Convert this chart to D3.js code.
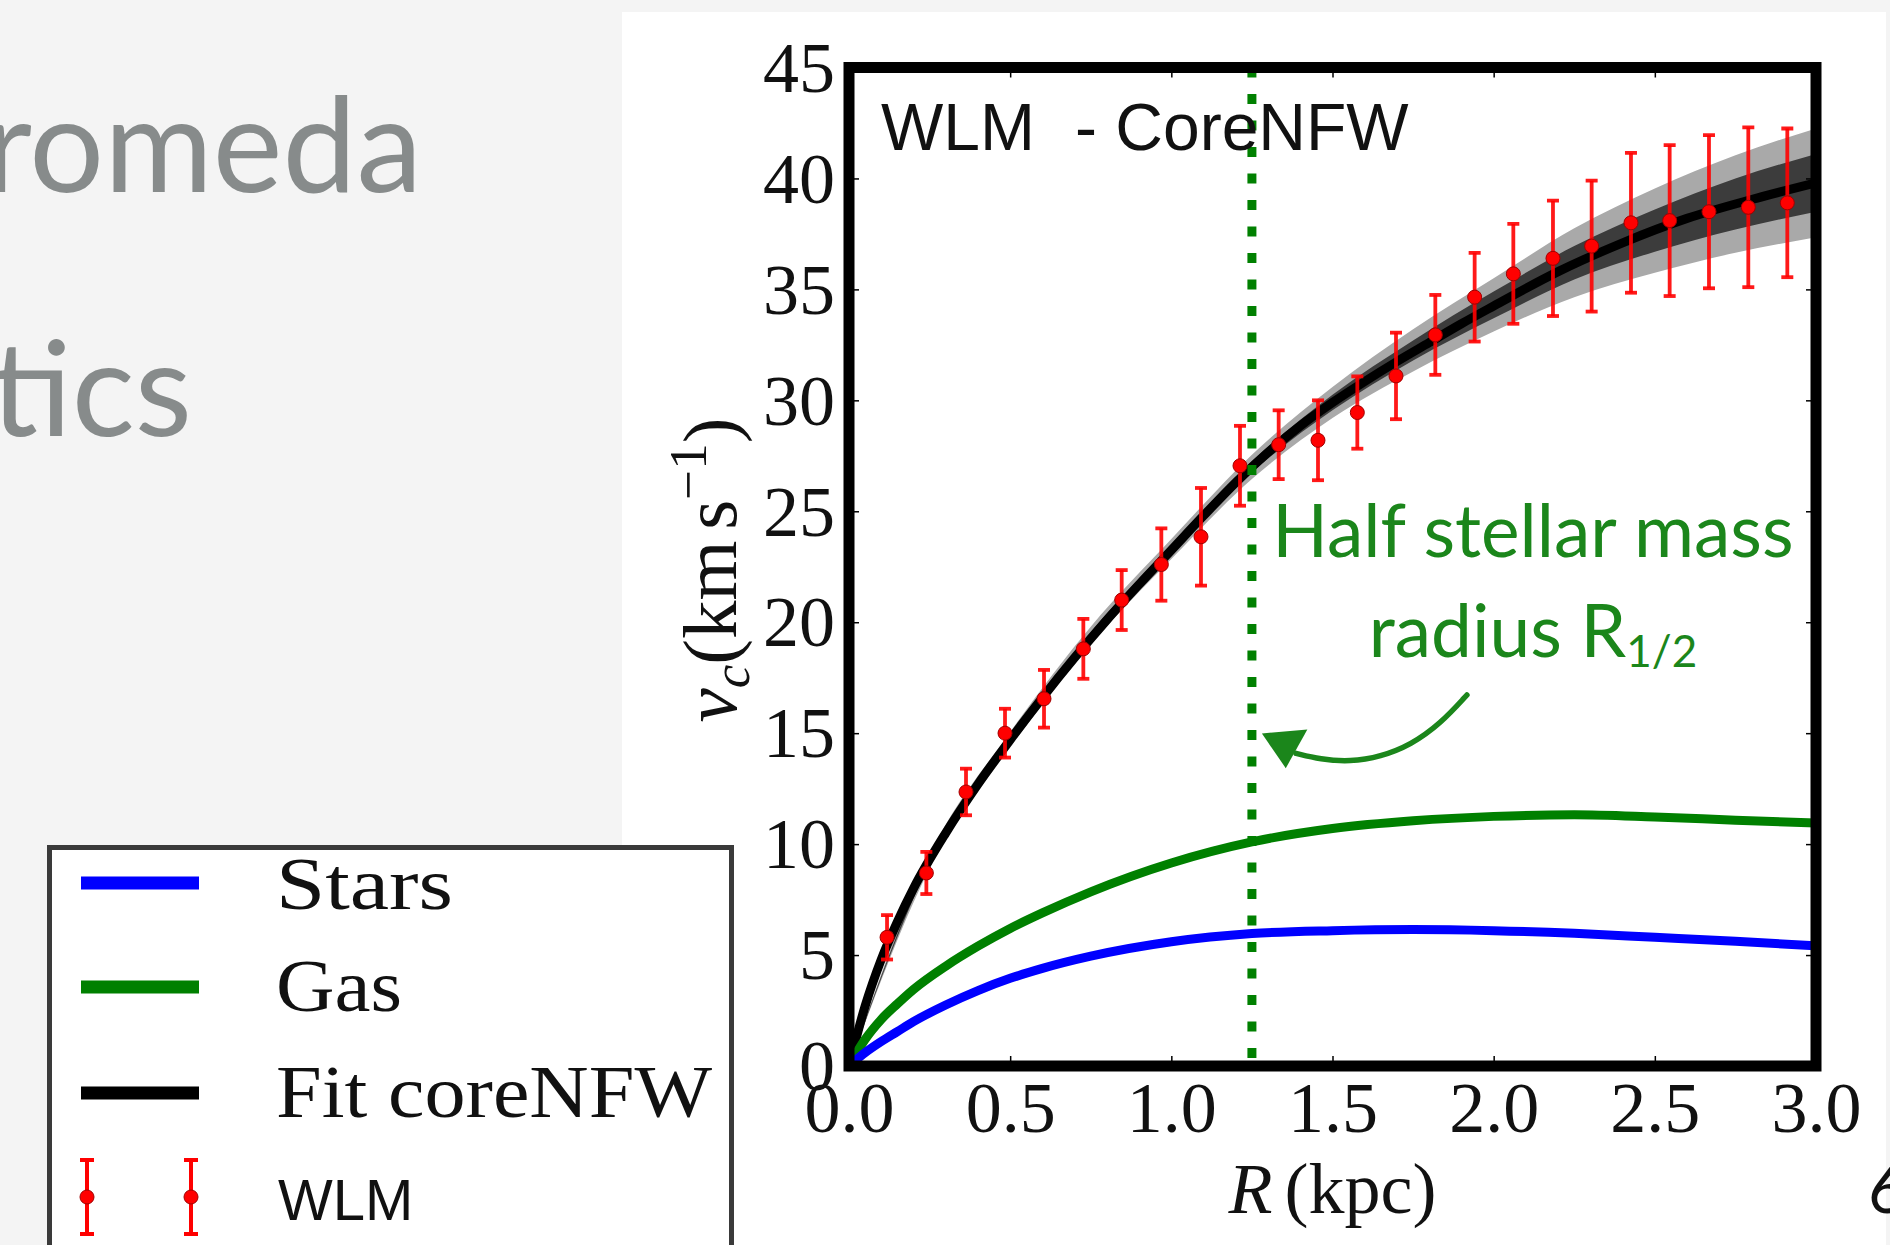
<!DOCTYPE html>
<html>
<head>
<meta charset="utf-8">
<script src="https://cdn.jsdelivr.net/npm/d3@7"></script>
<style>
  body { margin: 0; background: #f4f4f4; }
  svg { display: block; }
  .tick line { stroke: #000; stroke-width: 1.5; }
  .tick text { font-family: "Liberation Serif", serif; font-size: 72px; fill: #111; }
  .slide { font-family: Lato, "Open Sans", sans-serif; fill: #878b8b; }
  .serif { font-family: "Liberation Serif", serif; fill: #111; }
</style>
</head>
<body>
<div id="chart"></div>
<script>
// values
var pointR = [0.118, 0.240, 0.363, 0.484, 0.605, 0.727, 0.846, 0.969, 1.092, 1.213, 1.333, 1.455,
              1.577, 1.697, 1.819, 1.941, 2.061, 2.184, 2.304, 2.426, 2.546, 2.668, 2.790, 2.911];
var pointV = [5.8, 8.7, 12.35, 15.0, 16.55, 18.8, 21.0, 22.6, 23.85, 27.05, 28.0, 28.2,
              29.45, 31.1, 32.95, 34.65, 35.7, 36.4, 36.95, 38.0, 38.1, 38.5, 38.7, 38.9];
var pointErr = [1.0, 0.95, 1.05, 1.1, 1.3, 1.35, 1.35, 1.63, 2.2, 1.8, 1.55, 1.8,
                1.63, 1.95, 1.8, 2.0, 2.25, 2.6, 2.95, 3.15, 3.4, 3.45, 3.6, 3.35];

var fitR = [0, 0.05, 0.1, 0.15, 0.2, 0.3, 0.4, 0.5, 0.6, 0.7, 0.8, 0.9, 1.0, 1.1, 1.2, 1.3,
            1.4, 1.5, 1.6, 1.7, 1.8, 1.9, 2.0, 2.2, 2.4, 2.6, 2.8, 3.0];
var fitV = [0, 2.7, 4.8, 6.5, 8.0, 10.5, 12.7, 14.7, 16.6, 18.4, 20.1, 21.7, 23.25, 24.8, 26.3, 27.65,
            28.85, 29.9, 30.85, 31.75, 32.6, 33.45, 34.25, 35.8, 37.1, 38.2, 39.05, 39.8];

var bandR = [0, 0.25, 0.5, 0.75, 1.0, 1.25, 1.5, 1.75, 2.0, 2.25, 2.5, 2.75, 3.0];
var lightLo = [0, 8.9, 14.35, 19.0, 22.85, 26.45, 29.2, 31.3, 33.1, 34.65, 35.75, 36.65, 37.35];
var lightHi = [0, 9.5, 15.05, 19.8, 23.75, 27.55, 30.6, 33.2, 35.5, 37.75, 39.55, 41.05, 42.25];
var darkLo = [0, 9.1, 14.6, 19.25, 23.1, 26.75, 29.55, 31.8, 33.7, 35.45, 36.7, 37.7, 38.5];
var darkHi = [0, 9.3, 14.8, 19.55, 23.5, 27.25, 30.25, 32.7, 34.9, 36.95, 38.6, 40.0, 41.1];

var compR = [0, 0.05, 0.1, 0.15, 0.2, 0.3, 0.4, 0.5, 0.6, 0.75, 1.0, 1.25, 1.5, 1.75, 2.0, 2.25, 2.5, 2.75, 3.0];
var gasV = [0, 1.2, 2.1, 2.8, 3.45, 4.5, 5.4, 6.2, 6.9, 7.85, 9.15, 10.1, 10.7, 11.05, 11.25, 11.32, 11.22, 11.08, 10.95];
var starsV = [0, 0.6, 1.1, 1.55, 2.0, 2.75, 3.4, 3.95, 4.4, 4.95, 5.6, 5.97, 6.1, 6.15, 6.1, 5.98, 5.8, 5.62, 5.42];

var rHalf = 1.25;

var xTicks = [0, 0.5, 1.0, 1.5, 2.0, 2.5, 3.0];
var yTicks = [0, 5, 10, 15, 20, 25, 30, 35, 40, 45];

var legendLabels = ["Stars", "Gas", "Fit coreNFW", "WLM"];
var legendColors = ["#0000ff", "#008000", "#000000", "#ff0000"];

// annotation arrow, in data units
var arrowLine = [[1.917, 16.72], [1.836, 15.44], [1.743, 14.47], [1.649, 13.94], [1.555, 13.71], [1.462, 13.82], [1.387, 14.09]];
var arrowHead = [[1.281, 14.99], [1.422, 15.17], [1.355, 13.42]];

var width = 1890, height = 1245;

var svg = d3.select("#chart").append("svg")
    .attr("width", width)
    .attr("height", height);

// white panel behind the figure
svg.append("rect")
    .attr("x", 622).attr("y", 12)
    .attr("width", 1264).attr("height", height)
    .attr("fill", "#fff");

// slide text cut at the left edge
svg.append("text").attr("class", "slide")
    .attr("x", 422).attr("y", 192)
    .attr("text-anchor", "end")
    .attr("font-size", 132)
    .text("romeda");
svg.append("text").attr("class", "slide")
    .attr("x", 192).attr("y", 436)
    .attr("text-anchor", "end")
    .attr("font-size", 132)
    .text("tics");
svg.append("text")
    .attr("x", 1868).attr("y", 1213)
    .attr("font-family", "Lato, sans-serif")
    .attr("font-size", 66)
    .attr("fill", "#111")
    .text("6");

var x = d3.scaleLinear().domain([0, 3]).range([849, 1816]);
var y = d3.scaleLinear().domain([0, 45]).range([1066, 67.5]);

svg.append("clipPath").attr("id", "plotclip")
    .append("rect")
    .attr("x", x(0)).attr("y", y(45))
    .attr("width", x(3) - x(0)).attr("height", y(0) - y(45));

var plot = svg.append("g").attr("clip-path", "url(#plotclip)");

var band = function (lo, hi) {
    return d3.area()
        .x(function (d, i) { return x(bandR[i]); })
        .y0(function (d, i) { return y(lo[i]); })
        .y1(function (d, i) { return y(hi[i]); })
        .curve(d3.curveMonotoneX);
};

plot.append("path").datum(bandR)
    .attr("fill", "#a9a9a9")
    .attr("d", band(lightLo, lightHi));
plot.append("path").datum(bandR)
    .attr("fill", "#3c3c3c")
    .attr("d", band(darkLo, darkHi));

var line = d3.line()
    .x(function (d) { return x(d[0]); })
    .y(function (d) { return y(d[1]); })
    .curve(d3.curveMonotoneX);

plot.append("path")
    .datum(d3.zip(fitR, fitV))
    .attr("fill", "none").attr("stroke", "#000").attr("stroke-width", 9)
    .attr("d", line);
plot.append("path")
    .datum(d3.zip(compR, gasV))
    .attr("fill", "none").attr("stroke", "#008000").attr("stroke-width", 9)
    .attr("d", line);
plot.append("path")
    .datum(d3.zip(compR, starsV))
    .attr("fill", "none").attr("stroke", "#0000ff").attr("stroke-width", 9)
    .attr("d", line);

// error bars
var bars = plot.selectAll(".ebar")
    .data(d3.range(pointR.length))
    .enter().append("g")
    .attr("class", "ebar")
    .attr("stroke", "#ff0000")
    .attr("stroke-opacity", 0.9)
    .attr("stroke-width", 3.8);
bars.append("line")
    .attr("x1", function (i) { return x(pointR[i]); })
    .attr("x2", function (i) { return x(pointR[i]); })
    .attr("y1", function (i) { return y(pointV[i] - pointErr[i]); })
    .attr("y2", function (i) { return y(pointV[i] + pointErr[i]); });
bars.append("line")
    .attr("x1", function (i) { return x(pointR[i]) - 6; })
    .attr("x2", function (i) { return x(pointR[i]) + 6; })
    .attr("y1", function (i) { return y(pointV[i] + pointErr[i]); })
    .attr("y2", function (i) { return y(pointV[i] + pointErr[i]); });
bars.append("line")
    .attr("x1", function (i) { return x(pointR[i]) - 6; })
    .attr("x2", function (i) { return x(pointR[i]) + 6; })
    .attr("y1", function (i) { return y(pointV[i] - pointErr[i]); })
    .attr("y2", function (i) { return y(pointV[i] - pointErr[i]); });
plot.selectAll(".pt")
    .data(d3.range(pointR.length))
    .enter().append("circle")
    .attr("class", "pt")
    .attr("cx", function (i) { return x(pointR[i]); })
    .attr("cy", function (i) { return y(pointV[i]); })
    .attr("r", 7)
    .attr("fill", "#ff0000")
    .attr("stroke", "#a00000")
    .attr("stroke-width", 1);

// half stellar mass radius
plot.append("line")
    .attr("x1", x(rHalf)).attr("x2", x(rHalf))
    .attr("y1", y(45)).attr("y2", y(0))
    .attr("stroke", "#008000")
    .attr("stroke-width", 9)
    .attr("stroke-dasharray", "10 16.5");

// axes: ticks inside on all four sides
var xAxisG = svg.append("g").attr("transform", "translate(0," + y(0) + ")")
    .call(d3.axisBottom(x).tickValues(xTicks).tickSize(-10).tickFormat(d3.format(".1f")));
xAxisG.selectAll("text").attr("y", 66).attr("dy", 0);
svg.append("g").attr("transform", "translate(0," + y(45) + ")")
    .call(d3.axisTop(x).tickValues(xTicks).tickSize(-10).tickFormat(""));
var yAxisG = svg.append("g").attr("transform", "translate(" + x(0) + ",0)")
    .call(d3.axisLeft(y).tickValues(yTicks).tickSize(-10));
yAxisG.selectAll("text").attr("x", -14).attr("dy", "0.33em");
svg.append("g").attr("transform", "translate(" + x(3) + ",0)")
    .call(d3.axisRight(y).tickValues(yTicks).tickSize(-10).tickFormat(""));
svg.selectAll(".domain").remove();

// frame
svg.append("rect")
    .attr("x", x(0)).attr("y", y(45))
    .attr("width", x(3) - x(0)).attr("height", y(0) - y(45))
    .attr("fill", "none")
    .attr("stroke", "#000")
    .attr("stroke-width", 11);

// axis labels
svg.append("text").attr("class", "serif")
    .attr("x", x(1.5)).attr("y", 1213)
    .attr("text-anchor", "middle")
    .attr("font-size", 72)
    .call(function (t) {
        t.append("tspan").attr("font-style", "italic").text("R");
        t.append("tspan").attr("dx", 12).text("(kpc)");
    });

svg.append("text").attr("class", "serif")
    .attr("transform", "translate(736," + 570 + ") rotate(-90)")
    .attr("text-anchor", "middle")
    .attr("font-size", 77)
    .call(function (t) {
        t.append("tspan").attr("font-style", "italic").text("v");
        t.append("tspan").attr("font-style", "italic").attr("font-size", 53).attr("dy", 13).text("c");
        t.append("tspan").attr("dy", -13).text("(km");
        t.append("tspan").attr("dx", 11).text("s");
        t.append("tspan").attr("font-size", 53).attr("dy", -30).text("\u22121");
        t.append("tspan").attr("dy", 30).text(")");
    });

// title inside the axes
svg.append("text")
    .attr("x", x(0) + 32).attr("y", 150)
    .attr("font-family", "\"Liberation Sans\", Arial, sans-serif")
    .attr("font-size", 66)
    .attr("fill", "#111")
    .text("WLM");
svg.append("text")
    .attr("x", x(0) + 226).attr("y", 150)
    .attr("font-family", "\"Liberation Sans\", Arial, sans-serif")
    .attr("font-size", 66)
    .attr("fill", "#111")
    .text("- CoreNFW");

// annotation
var annGreen = "#1b861b";
svg.append("text")
    .attr("x", x(2.122)).attr("y", y(22.95))
    .attr("text-anchor", "middle")
    .attr("font-family", "Lato, sans-serif")
    .attr("font-size", 73)
    .attr("fill", annGreen)
    .text("Half stellar mass");
svg.append("text")
    .attr("x", x(2.122)).attr("y", y(18.45))
    .attr("text-anchor", "middle")
    .attr("font-family", "Lato, sans-serif")
    .attr("font-size", 73)
    .attr("fill", annGreen)
    .call(function (t) {
        t.append("tspan").text("radius R");
        t.append("tspan").attr("font-size", 44).attr("dy", 10).text("1/2");
    });
svg.append("path")
    .datum(arrowLine)
    .attr("fill", "none")
    .attr("stroke", annGreen)
    .attr("stroke-width", 5.5)
    .attr("stroke-linecap", "round")
    .attr("d", d3.line().x(function (d) { return x(d[0]); }).y(function (d) { return y(d[1]); }).curve(d3.curveBasis));
svg.append("path")
    .datum(arrowHead)
    .attr("fill", annGreen)
    .attr("d", d3.line().x(function (d) { return x(d[0]); }).y(function (d) { return y(d[1]); }).curve(d3.curveLinearClosed));

// legend box, cut by the bottom edge
var legend = svg.append("g");
legend.append("rect")
    .attr("x", 49.5).attr("y", 847.5)
    .attr("width", 682).attr("height", 430)
    .attr("fill", "#fff")
    .attr("stroke", "#3a3a3a")
    .attr("stroke-width", 5);

var legendLineY = [883, 987, 1093, 1197];
var legendTextY = [909, 1011, 1117, 1220];
var legendTextLen = [177, 126, 436, 138];

legendLabels.forEach(function (label, i) {
    if (i < 3) {
        legend.append("line")
            .attr("x1", 81).attr("x2", 199)
            .attr("y1", legendLineY[i]).attr("y2", legendLineY[i])
            .attr("stroke", legendColors[i])
            .attr("stroke-width", 13);
        legend.append("text").attr("class", "serif")
            .attr("x", 276).attr("y", legendTextY[i])
            .attr("font-size", 74)
            .attr("textLength", legendTextLen[i])
            .attr("lengthAdjust", "spacingAndGlyphs")
            .text(label);
    } else {
        [87, 191].forEach(function (mx) {
            var g = legend.append("g").attr("stroke", legendColors[i]).attr("stroke-width", 4);
            g.append("line").attr("x1", mx).attr("x2", mx).attr("y1", legendLineY[i] - 37).attr("y2", legendLineY[i] + 37);
            g.append("line").attr("x1", mx - 7).attr("x2", mx + 7).attr("y1", legendLineY[i] - 37).attr("y2", legendLineY[i] - 37);
            g.append("line").attr("x1", mx - 7).attr("x2", mx + 7).attr("y1", legendLineY[i] + 37).attr("y2", legendLineY[i] + 37);
            legend.append("circle").attr("cx", mx).attr("cy", legendLineY[i]).attr("r", 7)
                .attr("fill", legendColors[i]).attr("stroke", "#a00000");
        });
        legend.append("text")
            .attr("x", 278).attr("y", legendTextY[i])
            .attr("font-family", "\"Liberation Sans\", Arial, sans-serif")
            .attr("font-size", 58)
            .attr("fill", "#111")
            .text(label);
    }
});
</script>
</body>
</html>
